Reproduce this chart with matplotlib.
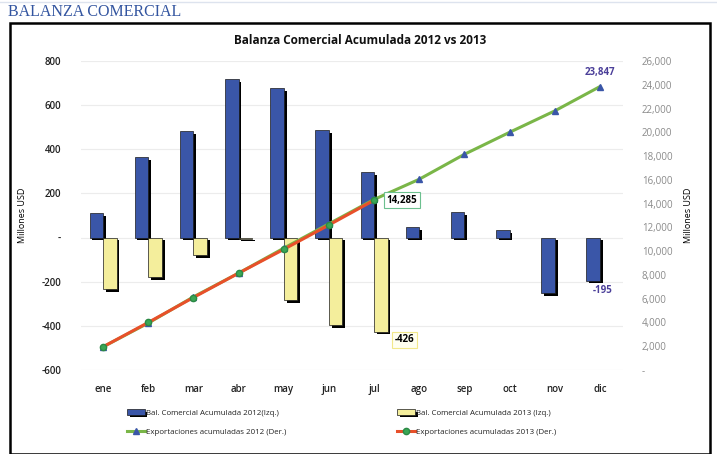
import matplotlib
matplotlib.use("Agg")
import matplotlib.pyplot as plt
import matplotlib.patheffects as pe
from matplotlib.lines import Line2D
from matplotlib.patches import Rectangle
import numpy as np

plt.rcParams['font.family'] = ['Open Sans', 'DejaVu Sans']

meses = ["ene", "feb", "mar", "abr", "may", "jun", "jul", "ago", "sep", "oct", "nov", "dic"]
bal_2012 = [110, 365, 482, 718, 678, 487, 297, 48, 116, 34, -251, -195]
bal_2013 = [-232, -178, -79, -5, -283, -396, -426]
exp_2012 = [1950, 3950, 6150, 8150, 10250, 12300, 14350, 16050, 18150, 20000, 21800, 23847]
exp_2013 = [1950, 4000, 6100, 8150, 10150, 12200, 14285]

izq_ticks = [-600, -400, -200, 0, 200, 400, 600, 800]
izq_labels = ["-600", "-400", "-200", "-", "200", "400", "600", "800"]
der_ticks = list(range(0, 26001, 2000))
der_labels = ["-"] + ["{:,}".format(v) for v in der_ticks[1:]]

azul = "#3a56a8"
amarillo = "#f4ee9c"
verde = "#7ab648"
rojo = "#e8502a"
punto = "#3aa655"

fig = plt.figure(figsize=(7.17, 4.54), dpi=100)
W, H = 717, 454

# marco y encabezado
fig.add_artist(Rectangle((10 / W, 0), 700 / W, 1 - 23 / H, transform=fig.transFigure,
                         fill=False, edgecolor="black", linewidth=1.8))
fig.add_artist(Line2D([0, 1], [1 - 2 / H, 1 - 2 / H], transform=fig.transFigure,
                      color="#dde3ee", linewidth=1))
fig.text(8 / W, 1 - 12 / H, "BALANZA COMERCIAL", family="Liberation Serif",
         fontsize=11.5, color="#3355a0", va="center", ha="left")
fig.text(360 / W, 1 - 40 / H, "Balanza Comercial Acumulada 2012 vs 2013",
         fontsize=8.5, fontweight="bold", ha="center", va="center", color="#111111")

ax = fig.add_axes([80.5 / W, 1 - 370 / H, 542 / W, 309 / H])
ax2 = ax.twinx()
ax.set_zorder(1)
ax2.set_zorder(2)
ax2.patch.set_visible(False)

x = np.arange(len(meses))
x13 = np.arange(len(bal_2013))
ancho = 0.3
sombra = [pe.withSimplePatchShadow(offset=(2, -2), shadow_rgbFace="black", alpha=1.0)]
b1 = ax.bar(x - ancho / 2, bal_2012, ancho, color=azul, edgecolor="#1a1a1a", linewidth=0.5,
            path_effects=sombra, label="Bal. Comercial Acumulada 2012(Izq.)")
b2 = ax.bar(x13 + ancho / 2, bal_2013, ancho, color=amarillo, edgecolor="#1a1a1a", linewidth=0.5,
            path_effects=sombra, label="Bal. Comercial Acumulada 2013 (Izq.)")

ax.set_xlim(-0.5, 11.5)
ax.set_ylim(-600, 800)
ax.set_yticks(izq_ticks)
ax.set_yticklabels(izq_labels)
ax.set_xticks(x)
ax.set_xticklabels(meses)
ax.grid(axis="y", color="#ececec", linewidth=0.8)
ax.set_axisbelow(True)
for s in ax.spines.values():
    s.set_visible(False)
for s in ax2.spines.values():
    s.set_visible(False)
ax.tick_params(axis="both", length=0, labelsize=7, labelcolor="#222222")
ax.tick_params(axis="x", pad=10)
ax.tick_params(axis="y", pad=14)
for t in ax.get_xticklabels() + ax.get_yticklabels():
    t.set_fontweight("semibold")
ax.set_ylabel("Millones USD", fontsize=6.5, labelpad=10)

l1, = ax2.plot(x, exp_2012, color=verde, linewidth=2.2, marker="^", markersize=4.5,
               markerfacecolor=azul, markeredgecolor=azul, label="Exportaciones acumuladas 2012 (Der.)")
l2, = ax2.plot(x13, exp_2013, color=rojo, linewidth=2.2, marker="o", markersize=4.5,
               markerfacecolor=punto, markeredgecolor="#2b8a45", label="Exportaciones acumuladas 2013 (Der.)")
ax2.set_ylim(0, 26000)
ax2.set_yticks(der_ticks)
ax2.set_yticklabels(der_labels)
ax2.tick_params(axis="y", length=0, labelsize=7, labelcolor="#8a8a8a", pad=14)
ax2.set_ylabel("Millones USD", fontsize=6.5, labelpad=8)

# etiquetas de datos
ax2.annotate("{:,}".format(exp_2013[6]), (x13[6], exp_2013[6]), xytext=(9, 0),
             textcoords="offset points", fontsize=7, fontweight="bold", va="center", ha="left",
             bbox=dict(boxstyle="square,pad=0.25", fc="white", ec="#6cc08f", lw=0.8))
ax.annotate("{:,}".format(bal_2013[6]), (x13[6] + ancho, bal_2013[6]), xytext=(5, -2),
            textcoords="offset points", fontsize=7, fontweight="bold", va="top", ha="left",
            bbox=dict(boxstyle="square,pad=0.25", fc="#fffff0", ec="#f2e88a", lw=0.8))
ax2.annotate("{:,}".format(exp_2012[11]), (x[11], exp_2012[11]), xytext=(0, 6),
             textcoords="offset points", fontsize=7, fontweight="bold", va="bottom", ha="center",
             color="#4b3f99")
ax.annotate("{:,}".format(bal_2012[11]), (x[11], bal_2012[11]), xytext=(2, -3),
            textcoords="offset points", fontsize=7, fontweight="bold", va="top", ha="center",
            color="#4b3f99")

leg = fig.legend(handles=[b1, l1, b2, l2], loc="upper left", ncol=2,
                 bbox_to_anchor=(120 / W, 1 - 402 / H), frameon=False, fontsize=5.7,
                 handlelength=2.2, handletextpad=0.2, columnspacing=14.0, labelspacing=1.5)
for t in leg.get_texts():
    t.set_color("#222222")

fig.savefig("out.png", dpi=100)
